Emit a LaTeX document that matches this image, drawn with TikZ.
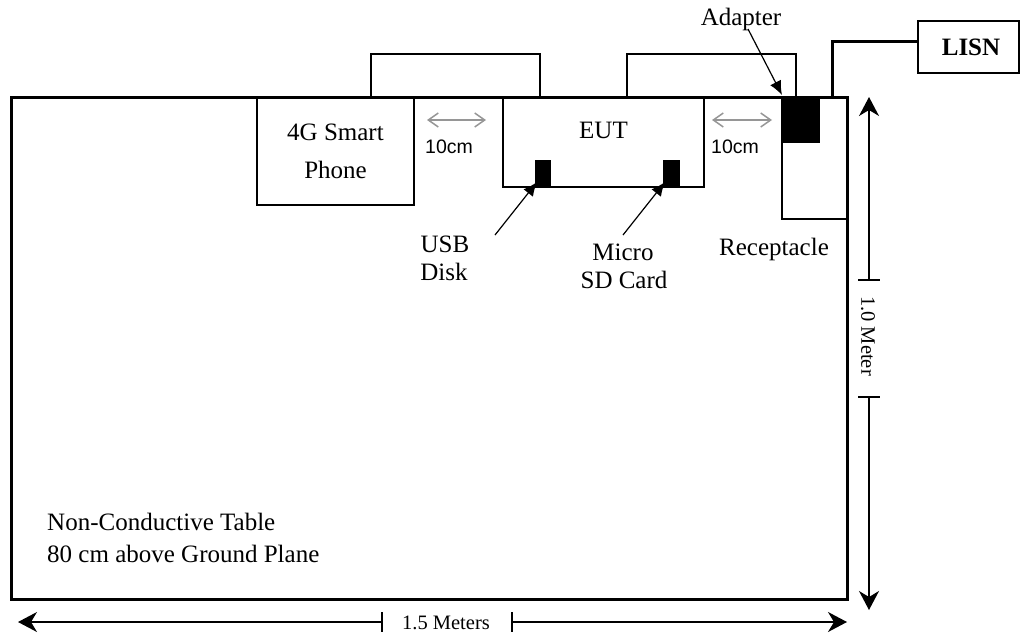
\documentclass[tikz,border=0pt]{standalone}
\usepackage{fontspec}
\setmainfont{Liberation Serif}
\newfontfamily\arialfont{Liberation Sans}
\usetikzlibrary{arrows.meta,calc}
\begin{document}
\begin{tikzpicture}[x=1pt,y=-1pt,
  box/.style={draw,line width=1.5pt,inner sep=0pt,outer sep=0pt},
  blk/.style={fill=black,draw=none,inner sep=0pt,outer sep=0pt},
  lbl/.style={font=\fontsize{25}{40}\selectfont,inner sep=0pt,anchor=base},
  cmlbl/.style={font=\arialfont\fontsize{19.5}{23}\selectfont,inner sep=0pt,anchor=base},
  dimlbl/.style={font=\fontsize{20.5}{24}\selectfont,inner sep=0pt},
  wire/.style={line width=1.5pt,line join=miter},
  ptr/.style={line width=1.2pt,-{Latex[length=14pt,width=12pt]}},
  gap/.style={line width=1.5pt,draw={rgb,255:red,150;green,150;blue,150},{Straight Barb[length=10pt,width=14pt]}-{Straight Barb[length=10pt,width=14pt]}},
  dim/.style={line width=1.5pt,-{Stealth[length=19pt,width=20pt,inset=6pt]}},
  tick/.style={line width=1.5pt}]
\useasboundingbox (0,0) rectangle (1022,638);
% table
\node[box,line width=3pt,minimum width=836,minimum height=502] (table) at (429,348) {};
% boxes
\node[box,minimum width=157,minimum height=108,align=center,font=\fontsize{25}{40}\selectfont] (phone) at (335.5,151) {4G Smart\\[-2pt]Phone};
\node[box,line width=1.8pt,minimum width=201,minimum height=90] (eut) at (603.5,142) {};
\node[lbl] (euttext) at (603.5,138) {EUT};
\node[blk,minimum width=16,minimum height=27] (usb) at (543,173.5) {};
\node[blk,minimum width=17,minimum height=27] (sd) at (671.5,173.5) {};
\node[box,line width=1.8pt,minimum width=65,minimum height=122] (rec) at (814.5,158) {};
\node[blk,minimum width=38,minimum height=46] (adapter) at (801,120) {};
\node[box,minimum width=101,minimum height=52] (lisn) at (968.5,47) {};
\node[lbl,font=\bfseries\fontsize{25}{30}\selectfont] (lisntext) at (971,55) {LISN};
% cables
\draw[wire] ($(phone.north west)+(114,0)$) -- ++(0,-43) -| ($(eut.north west)+(37,0)$);
\draw[wire] ($(eut.north west)+(124,0)$) -- ++(0,-43) -| ($(adapter.north west)+(14,0)$);
\draw[line width=3pt,line join=miter] ($(rec.north west)+(50,0)$) |- (lisn.west |- 0,41);
% 10 cm gaps
\draw[gap] ($(phone.north east)+(13,23)$) -- ($(eut.north west)+(-17,23)$);
\node[cmlbl] (gap1) at (449,153) {10cm};
\draw[gap] ($(eut.north east)+(8,23)$) -- ($(rec.north west)+(-10,23)$);
\node[cmlbl] (gap2) at (735,153) {10cm};
% labels with pointers
\node[lbl] (usbtext) at (445,252) {USB};
\node[lbl] (disktext) at (444,280) {Disk};
\coordinate (usbfrom) at (495,235);
\draw[ptr] (usbfrom) -- ($(usb.south west)+(2,-5)$);
\node[lbl] (microtext) at (623,260) {Micro};
\node[lbl] (sdtext) at (624,288) {SD Card};
\coordinate (sdfrom) at (623,235);
\draw[ptr] (sdfrom) -- ($(sd.south west)+(2,-5)$);
\node[lbl] (adtext) at (741,25) {Adapter};
\coordinate (adfrom) at (748,29);
\draw[ptr] (adfrom) -- ($(adapter.north west)+(0,-2)$);
\node[lbl] (rectext) at (774,255) {Receptacle};
% table text
\node[lbl,anchor=base west] (t1) at (47,530) {Non-Conductive Table};
\node[lbl,anchor=base west] (t2) at (47,562) {80 cm above Ground Plane};
% vertical dimension
\coordinate (vtop) at (869,97);
\coordinate (vt1) at (869,280);
\coordinate (vt2) at (869,397);
\coordinate (vbot) at (869,610);
\draw[dim] (vt1) -- (vtop);
\draw[dim] (vt2) -- (vbot);
\draw[tick] ($(vt1)+(-11,0)$) -- ($(vt1)+(11,0)$);
\draw[tick] ($(vt2)+(-11,0)$) -- ($(vt2)+(11,0)$);
\node[dimlbl,rotate=-90] (vlabel) at (868,336) {1.0 Meter};
% horizontal dimension
\coordinate (hl) at (18,622);
\coordinate (h1) at (382,622);
\coordinate (h2) at (512,622);
\coordinate (hr) at (847,622);
\draw[dim] (h1) -- (hl);
\draw[dim] (h2) -- (hr);
\draw[tick] ($(h1)+(0,-10)$) -- ($(h1)+(0,10)$);
\draw[tick] ($(h2)+(0,-10)$) -- ($(h2)+(0,10)$);
\node[dimlbl,anchor=base] (hlabel) at (446,629) {1.5 Meters};
\end{tikzpicture}
\end{document}
